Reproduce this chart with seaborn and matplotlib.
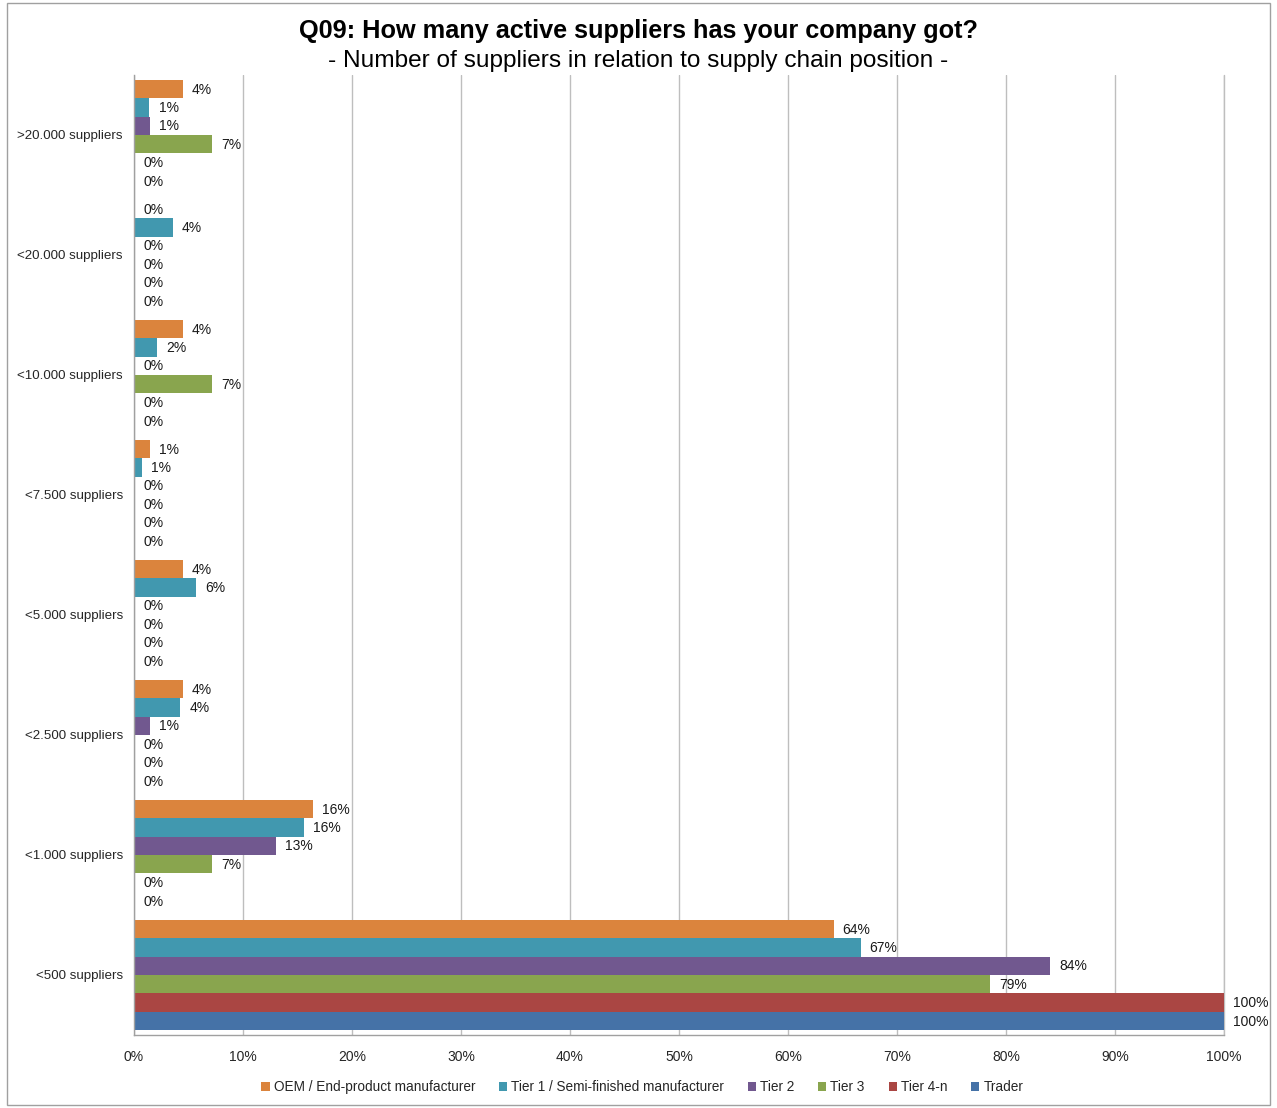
import matplotlib
matplotlib.use("Agg")
import matplotlib.pyplot as plt
import seaborn as sns
import pandas as pd
import numpy as np
from matplotlib.patches import Rectangle, Patch

categories = [">20.000 suppliers", "<20.000 suppliers", "<10.000 suppliers", "<7.500 suppliers",
              "<5.000 suppliers", "<2.500 suppliers", "<1.000 suppliers", "<500 suppliers"]
series = ["OEM / End-product manufacturer", "Tier 1 / Semi-finished manufacturer",
          "Tier 2", "Tier 3", "Tier 4-n", "Trader"]
oem = [4.48, 0.0, 4.48, 1.49, 4.48, 4.48, 16.42, 64.18]
tier1 = [1.42, 3.55, 2.13, 0.71, 5.67, 4.26, 15.60, 66.67]
tier2 = [1.45, 0.0, 0.0, 0.0, 0.0, 1.45, 13.04, 84.06]
tier3 = [7.14, 0.0, 7.14, 0.0, 0.0, 0.0, 7.14, 78.57]
tier4 = [0.0, 0.0, 0.0, 0.0, 0.0, 0.0, 0.0, 100.0]
trader = [0.0, 0.0, 0.0, 0.0, 0.0, 0.0, 0.0, 100.0]
colors = ["#DB843D", "#4198AF", "#71588F", "#89A54E", "#AA4643", "#4572A7"]
xticks = [0, 10, 20, 30, 40, 50, 60, 70, 80, 90, 100]

rows = []
for s, vals in zip(series, [oem, tier1, tier2, tier3, tier4, trader]):
    for c, v in zip(categories, vals):
        rows.append({"cat": c, "series": s, "value": v})
df = pd.DataFrame(rows)

sns.set_theme(style="white")
plt.rcParams["font.family"] = ["Liberation Sans", "DejaVu Sans"]

W, H = 1277, 1108
fig = plt.figure(figsize=(W / 100, H / 100), dpi=100)
ax = fig.add_axes([134 / W, 1 - 1035 / H, (1224 - 134) / W, (1035 - 75) / H])

sns.barplot(data=df, x="value", y="cat", hue="series", order=categories, hue_order=series,
            palette=colors, orient="h", width=0.92, ax=ax, legend=False,
            saturation=1, edgecolor="none", linewidth=0, errorbar=None)

ax.set_xlim(0, 100)
ax.set_ylim(len(categories) - 0.5, -0.5)
ax.set_xticks(xticks)
ax.set_xticklabels([f"{t}%" for t in xticks], fontsize=10)
ax.set_xlabel("")
ax.set_ylabel("")
ax.tick_params(axis="y", which="major", length=0, labelsize=9.6, pad=8)
ax.set_yticks(np.arange(-0.5, len(categories), 1.0), minor=True)
ax.tick_params(axis="y", which="minor", length=5, color="#A0A0A0", width=1, direction="out")
ax.tick_params(axis="x", which="major", length=5, color="#A0A0A0", width=1, direction="out", labelsize=10, pad=6)
ax.xaxis.grid(True, color="#BEBEBE", linewidth=1)
ax.yaxis.grid(False)
ax.set_axisbelow(True)
ax.axvline(100, color="#BEBEBE", linewidth=1, clip_on=False, zorder=0.5)
for side in ["top", "right"]:
    ax.spines[side].set_visible(False)
for side in ["left", "bottom"]:
    ax.spines[side].set_color("#A0A0A0")
    ax.spines[side].set_linewidth(1)

# data labels
for cont in ax.containers:
    for bar in cont:
        v = bar.get_width()
        y = bar.get_y() + bar.get_height() / 2
        ax.annotate(f"{round(v)}%", xy=(v, y), xytext=(6.5, -0.5), textcoords="offset points",
                    ha="left", va="center", fontsize=10, color="#1a1a1a", clip_on=False,
                    annotation_clip=False)

fig.text(0.5, 1 - 31 / H, "Q09: How many active suppliers has your company got?",
         ha="center", va="center", fontsize=18.2, fontweight="bold", color="#000000")
fig.text(0.5, 1 - 61 / H, "- Number of suppliers in relation to supply chain position -",
         ha="center", va="center", fontsize=17.6, color="#000000")

handles = [Patch(facecolor=c, edgecolor="none") for c in colors]
fig.legend(handles, series, loc="center", bbox_to_anchor=(0.503, 1 - 1087 / H), ncol=6,
           frameon=False, fontsize=9.8, handlelength=0.6, handleheight=0.6,
           handletextpad=0.3, columnspacing=1.75)

fig.patches.append(Rectangle((7 / W, 3 / H), (1270 - 7) / W, (1105 - 3) / H,
                             transform=fig.transFigure, fill=False, edgecolor="#A0A0A0",
                             linewidth=1))

fig.savefig("out.png", dpi=100, facecolor="white")
